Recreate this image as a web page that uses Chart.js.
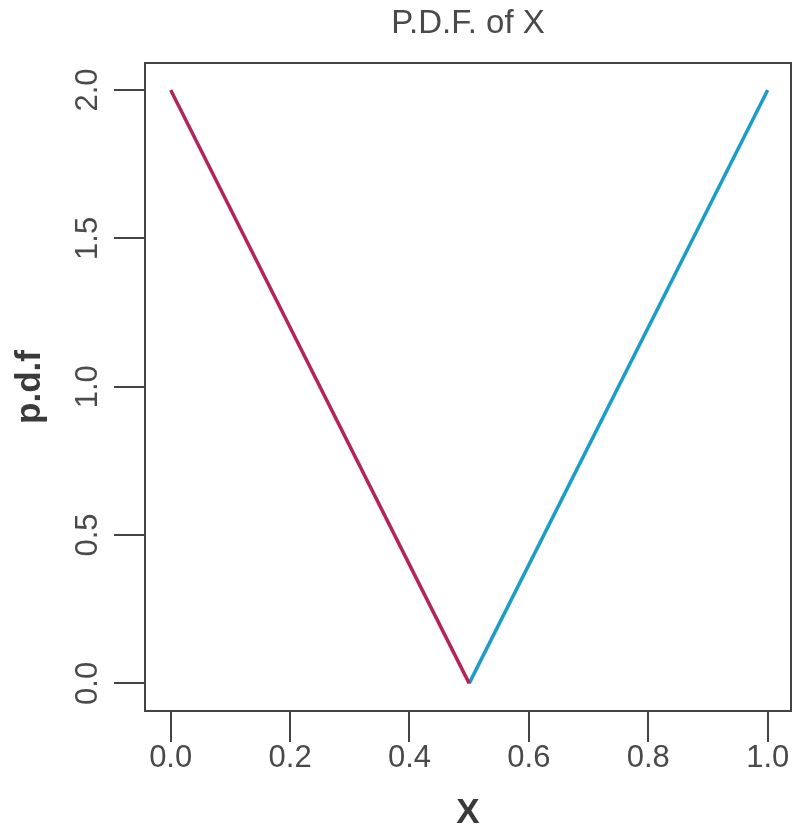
<!DOCTYPE html>
<html>
<head>
<meta charset="utf-8">
<title>P.D.F. of X</title>
<script src="https://cdn.jsdelivr.net/npm/chart.js@4"></script>
<style>
  html, body { margin: 0; padding: 0; background: #fff; }
  #wrap { width: 792px; height: 831px; }
</style>
</head>
<body>
<div id="wrap"><canvas id="pdfChart" width="792" height="831"></canvas></div>
<script>
// density of X: falls from 2 to 0 on [0, 0.5], rises back to 2 on [0.5, 1]
const leftX  = [0, 0.5];
const leftY  = [2, 0];
const rightX = [0.5, 1];
const rightY = [0, 2];

const xTicks = [0, 0.2, 0.4, 0.6, 0.8, 1.0];
const yTicks = [0, 0.5, 1.0, 1.5, 2.0];

const FONT = "'Liberation Sans', Arial, sans-serif";
const INK = '#4a4a4a';
const AXIS = '#444';

function toPoints(xs, ys) {
    return xs.map((x, i) => ({ x: x, y: ys[i] }));
}

// R style closed box around the plot region
const boxPlugin = {
    id: 'plotBox',
    afterDraw(chart) {
        const a = chart.chartArea;
        const ctx = chart.ctx;
        ctx.save();
        ctx.strokeStyle = AXIS;
        ctx.lineWidth = 2;
        ctx.strokeRect(a.left, a.top, a.right - a.left, a.bottom - a.top);
        ctx.restore();
    },
};

new Chart(document.getElementById('pdfChart').getContext('2d'), {
    type: 'line',
    data: {
        datasets: [
            {
                data: toPoints(leftX, leftY),
                borderColor: '#b3245a',
                borderWidth: 3.5,
                pointRadius: 0,
            },
            {
                data: toPoints(rightX, rightY),
                borderColor: '#1a9dc9',
                borderWidth: 3.5,
                pointRadius: 0,
            },
        ],
    },
    options: {
        responsive: false,
        animation: false,
        layout: { padding: { right: 1 } },
        plugins: {
            legend: { display: false },
            tooltip: { enabled: false },
            title: {
                display: true,
                text: 'P.D.F. of X',
                fullSize: false,
                color: INK,
                font: { family: FONT, size: 33, weight: 'normal', lineHeight: 1.2 },
                padding: { top: 4, bottom: 19.4 },
            },
        },
        scales: {
            x: {
                type: 'linear',
                min: -0.043,
                max: 1.039,
                afterBuildTicks: (s) => { s.ticks = xTicks.map(v => ({ value: v })); },
                afterFit: (s) => { s.height = 120; },
                border: { display: false },
                grid: { drawOnChartArea: false, drawTicks: true, tickLength: 31, color: AXIS, lineWidth: 2 },
                ticks: {
                    color: INK,
                    padding: 1,
                    font: { family: FONT, size: 31, lineHeight: 1 },
                    callback: (v) => Number(v).toFixed(1),
                },
                title: {
                    display: true,
                    text: 'X',
                    color: '#3a3a3a',
                    font: { family: FONT, size: 35, weight: 'bold', lineHeight: 1 },
                    padding: { top: 0, bottom: 0 },
                },
            },
            y: {
                type: 'linear',
                min: -0.093,
                max: 2.091,
                afterBuildTicks: (s) => { s.ticks = yTicks.map(v => ({ value: v })); },
                afterFit: (s) => { s.width = 145; },
                border: { display: false },
                grid: { drawOnChartArea: false, drawTicks: true, tickLength: 31, color: AXIS, lineWidth: 2 },
                ticks: {
                    color: INK,
                    padding: 4,
                    minRotation: 90,
                    maxRotation: 90,
                    crossAlign: 'center',
                    font: { family: FONT, size: 31, lineHeight: 1 },
                    callback: (v) => Number(v).toFixed(1),
                },
                title: {
                    display: true,
                    text: 'p.d.f',
                    color: '#3a3a3a',
                    font: { family: FONT, size: 35, weight: 'bold', lineHeight: 1 },
                    padding: { top: 13, bottom: 0 },
                },
            },
        },
    },
    plugins: [boxPlugin],
});
</script>
</body>
</html>
